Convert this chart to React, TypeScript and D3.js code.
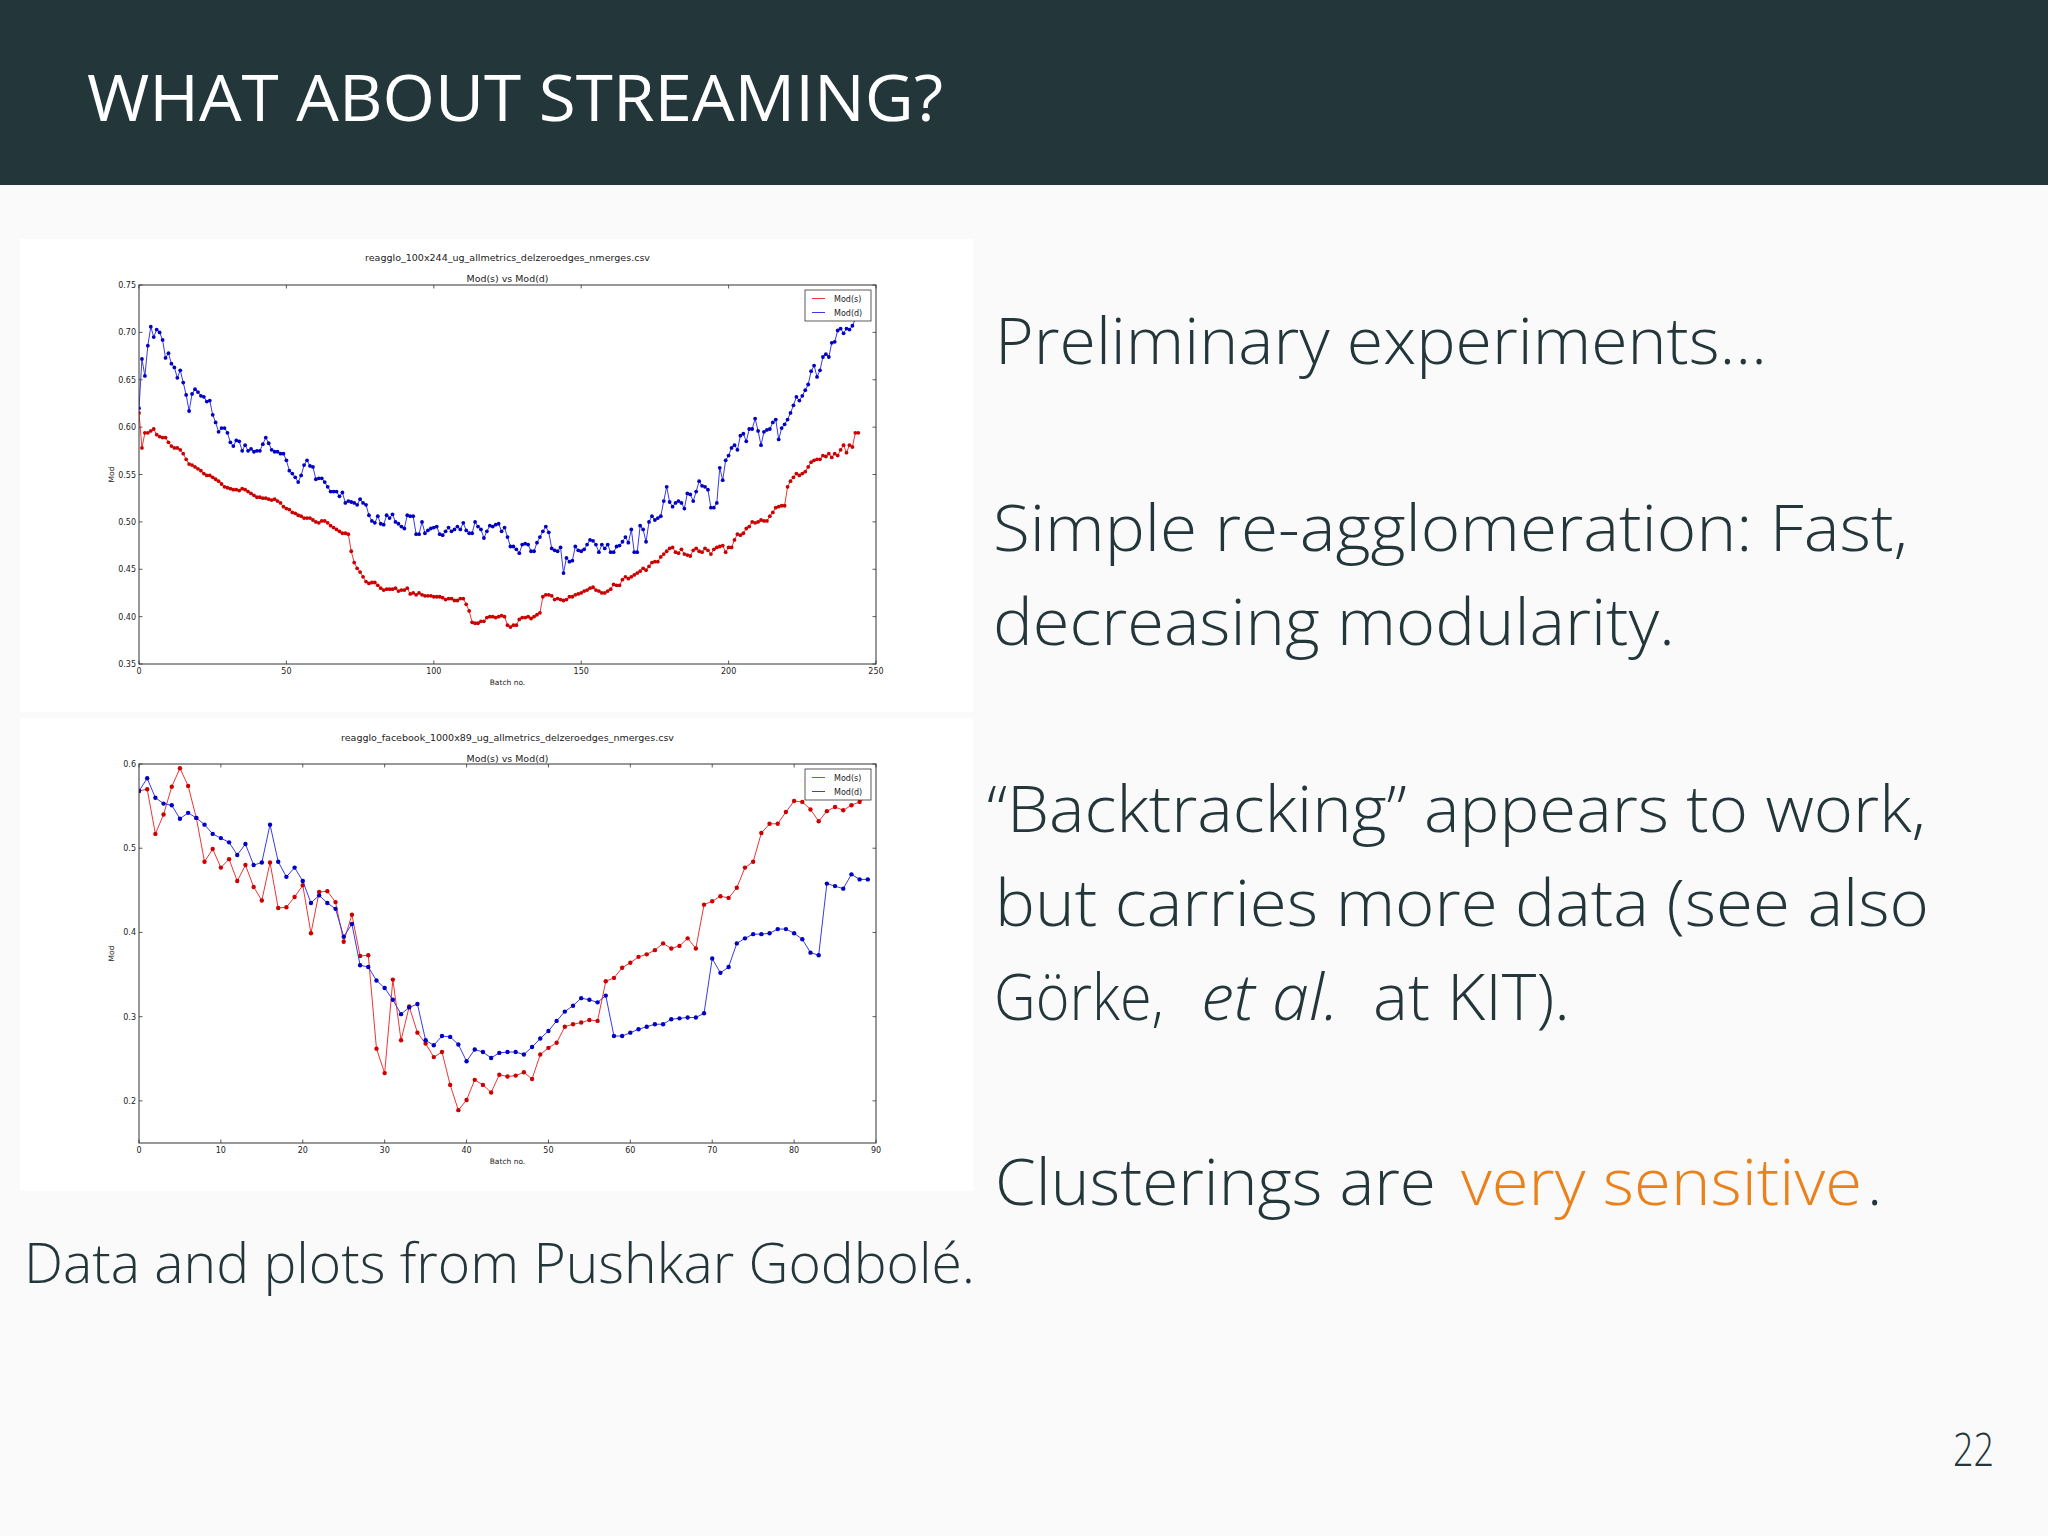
import React from "react";
import * as d3 from "d3";

// ---------- DATA ----------
const topModS: number[] = [
  0.615,0.578,0.594,0.594,0.596,0.598,0.592,0.590,0.589,0.589,
  0.584,0.580,0.578,0.578,0.576,0.572,0.566,0.561,0.560,0.558,
  0.556,0.554,0.551,0.549,0.549,0.547,0.545,0.543,0.540,0.537,
  0.536,0.535,0.534,0.534,0.533,0.535,0.534,0.532,0.530,0.528,
  0.526,0.526,0.525,0.525,0.524,0.523,0.524,0.522,0.520,0.516,
  0.514,0.513,0.510,0.509,0.507,0.506,0.504,0.504,0.504,0.502,
  0.500,0.499,0.501,0.501,0.499,0.496,0.494,0.492,0.490,0.488,
  0.488,0.487,0.469,0.457,0.451,0.447,0.442,0.437,0.435,0.436,
  0.436,0.433,0.430,0.428,0.429,0.429,0.429,0.430,0.427,0.428,
  0.428,0.430,0.424,0.425,0.423,0.425,0.423,0.422,0.422,0.422,
  0.421,0.421,0.421,0.420,0.418,0.419,0.419,0.417,0.417,0.419,
  0.419,0.413,0.406,0.394,0.393,0.393,0.395,0.395,0.399,0.400,
  0.400,0.399,0.400,0.401,0.400,0.391,0.389,0.391,0.391,0.397,
  0.399,0.399,0.400,0.398,0.400,0.402,0.404,0.421,0.423,0.423,
  0.422,0.418,0.419,0.418,0.417,0.418,0.421,0.421,0.423,0.424,
  0.425,0.427,0.428,0.430,0.431,0.428,0.427,0.425,0.425,0.427,
  0.429,0.434,0.433,0.433,0.439,0.442,0.440,0.442,0.444,0.446,
  0.448,0.451,0.449,0.453,0.457,0.458,0.458,0.463,0.466,0.469,
  0.472,0.473,0.468,0.467,0.471,0.466,0.465,0.464,0.470,0.472,
  0.469,0.468,0.472,0.470,0.466,0.471,0.473,0.474,0.475,0.468,
  0.473,0.473,0.481,0.487,0.486,0.488,0.493,0.495,0.500,0.499,
  0.500,0.502,0.501,0.501,0.506,0.510,0.515,0.516,0.517,0.517,
  0.537,0.543,0.547,0.551,0.549,0.551,0.553,0.558,0.563,0.565,
  0.566,0.566,0.570,0.569,0.572,0.568,0.572,0.570,0.576,0.581,
  0.573,0.581,0.579,0.594,0.594,
];

const topModD: number[] = [
  0.620,0.672,0.654,0.686,0.706,0.695,0.703,0.700,0.692,0.673,
  0.678,0.667,0.663,0.652,0.660,0.647,0.634,0.617,0.635,0.640,
  0.637,0.633,0.632,0.627,0.628,0.613,0.605,0.595,0.599,0.599,
  0.594,0.584,0.580,0.586,0.585,0.575,0.581,0.575,0.577,0.574,
  0.575,0.575,0.582,0.589,0.583,0.576,0.574,0.574,0.572,0.572,
  0.565,0.554,0.551,0.547,0.542,0.549,0.560,0.565,0.559,0.558,
  0.545,0.546,0.546,0.542,0.537,0.532,0.532,0.532,0.527,0.531,
  0.520,0.522,0.521,0.520,0.518,0.524,0.520,0.518,0.507,0.501,
  0.499,0.506,0.498,0.497,0.507,0.504,0.508,0.500,0.498,0.495,
  0.493,0.507,0.506,0.506,0.487,0.487,0.500,0.488,0.491,0.493,
  0.494,0.495,0.487,0.486,0.490,0.494,0.490,0.492,0.495,0.492,
  0.499,0.491,0.488,0.488,0.500,0.495,0.492,0.483,0.490,0.496,
  0.495,0.497,0.498,0.490,0.494,0.484,0.474,0.474,0.471,0.467,
  0.476,0.477,0.476,0.469,0.469,0.478,0.484,0.490,0.495,0.489,
  0.472,0.470,0.469,0.473,0.446,0.462,0.458,0.459,0.474,0.470,
  0.469,0.471,0.476,0.481,0.480,0.476,0.468,0.476,0.472,0.476,
  0.468,0.468,0.474,0.475,0.479,0.484,0.478,0.492,0.468,0.468,
  0.496,0.492,0.479,0.500,0.506,0.502,0.504,0.506,0.522,0.537,
  0.521,0.516,0.520,0.522,0.520,0.514,0.530,0.529,0.522,0.532,
  0.543,0.538,0.537,0.534,0.515,0.515,0.520,0.557,0.544,0.565,
  0.570,0.578,0.581,0.576,0.591,0.593,0.585,0.598,0.598,0.609,
  0.596,0.581,0.595,0.597,0.598,0.605,0.608,0.587,0.599,0.603,
  0.608,0.615,0.623,0.632,0.628,0.633,0.639,0.645,0.659,0.665,
  0.653,0.660,0.674,0.677,0.674,0.689,0.690,0.702,0.704,0.699,
  0.704,0.703,0.707,0.714,0.718,
];

const botModS: number[] = [
  0.568,0.570,0.517,0.540,0.573,0.595,0.574,0.536,0.484,0.499,
  0.477,0.487,0.461,0.480,0.454,0.438,0.483,0.429,0.430,0.442,
  0.456,0.399,0.448,0.449,0.436,0.389,0.421,0.372,0.373,0.262,
  0.233,0.344,0.272,0.312,0.281,0.268,0.252,0.258,0.219,0.189,
  0.201,0.225,0.219,0.210,0.231,0.229,0.230,0.234,0.226,0.255,
  0.263,0.269,0.288,0.291,0.293,0.296,0.295,0.342,0.346,0.358,
  0.364,0.371,0.374,0.379,0.387,0.381,0.384,0.393,0.381,0.433,
  0.437,0.443,0.441,0.453,0.477,0.484,0.518,0.529,0.529,0.543,
  0.556,0.555,0.546,0.532,0.544,0.549,0.545,0.551,0.555,0.562,
];

const botModD: number[] = [
  0.568,0.583,0.560,0.553,0.551,0.535,0.542,0.536,0.528,0.517,
  0.512,0.507,0.492,0.505,0.480,0.483,0.528,0.484,0.466,0.477,
  0.461,0.435,0.444,0.435,0.428,0.395,0.410,0.361,0.359,0.343,
  0.334,0.320,0.303,0.311,0.315,0.272,0.266,0.277,0.276,0.267,
  0.247,0.261,0.258,0.251,0.257,0.258,0.258,0.255,0.264,0.274,
  0.283,0.295,0.306,0.313,0.322,0.320,0.317,0.325,0.277,0.277,
  0.281,0.285,0.288,0.291,0.291,0.297,0.298,0.299,0.299,0.304,
  0.369,0.352,0.359,0.387,0.393,0.398,0.398,0.399,0.404,0.404,
  0.399,0.392,0.376,0.373,0.458,0.455,0.452,0.469,0.463,0.463,
];

const topXTicks = [0, 50, 100, 150, 200, 250];
const topYTicks = [0.35, 0.4, 0.45, 0.5, 0.55, 0.6, 0.65, 0.7, 0.75];
const botXTicks = [0, 10, 20, 30, 40, 50, 60, 70, 80, 90];
const botYTicks = [0.2, 0.3, 0.4, 0.5, 0.6];

const seriesNames = ["Mod(s)", "Mod(d)"];
const topTitle = "reagglo_100x244_ug_allmetrics_delzeroedges_nmerges.csv";
const botTitle = "reagglo_facebook_1000x89_ug_allmetrics_delzeroedges_nmerges.csv";
const subTitle = "Mod(s) vs Mod(d)";

// ---------- STYLE ----------
const DARK = "#23373B";
const ORANGE = "#EB811B";
const BG = "#FAFAFB";
const SLIDE_FONT = "'Open Sans', 'Fira Sans', 'Noto Sans', sans-serif";
const MPL_FONT = "'DejaVu Sans', sans-serif";
const RED_LINE = "#ee3535";
const RED_DOT = "#cc0000";
const BLUE_LINE = "#3a3ae8";
const BLUE_DOT = "#0000c4";

type ChartProps = {
  panel: [number, number, number, number];
  plot: { left: number; right: number; top: number; bottom: number };
  xDomain: [number, number];
  yDomain: [number, number];
  xTicks: number[];
  yTicks: number[];
  yFmt: (v: number) => string;
  s: number[];
  d: number[];
  title: string;
  titleLen: number;
  titleY: number;
  subY: number;
  r: number;
  id: string;
};

function Chart(p: ChartProps) {
  const { plot } = p;
  const x = d3.scaleLinear().domain(p.xDomain).range([plot.left, plot.right]);
  const y = d3.scaleLinear().domain(p.yDomain).range([plot.bottom, plot.top]);
  const line = d3
    .line<number>()
    .x((_, i) => x(i))
    .y((v) => y(v));
  const cx = (plot.left + plot.right) / 2;
  const cy = (plot.top + plot.bottom) / 2;
  const tl = 3.5;
  const lg = { x0: plot.right - 71, y0: plot.top + 5, w: 66, h: 31 };
  return (
    <g>
      <rect x={p.panel[0]} y={p.panel[1]} width={p.panel[2]} height={p.panel[3]} fill="#ffffff" />
      <text x={cx} y={p.titleY} textAnchor="middle" fontFamily={MPL_FONT} fontSize={9.5} fill="#222"
        textLength={p.titleLen} lengthAdjust="spacingAndGlyphs">{p.title}</text>
      <text x={cx} y={p.subY} textAnchor="middle" fontFamily={MPL_FONT} fontSize={9.5} fill="#222"
        textLength={82} lengthAdjust="spacingAndGlyphs">{subTitle}</text>
      <clipPath id={p.id}>
        <rect x={plot.left} y={plot.top} width={plot.right - plot.left} height={plot.bottom - plot.top} />
      </clipPath>
      <g clipPath={`url(#${p.id})`}>
        <path d={line(p.s) || ""} fill="none" stroke={RED_LINE} strokeWidth={1} />
        {p.s.map((v, i) => (
          <circle key={"s" + i} cx={x(i)} cy={y(v)} r={p.r} fill={RED_DOT} />
        ))}
        <path d={line(p.d) || ""} fill="none" stroke={BLUE_LINE} strokeWidth={1} />
        {p.d.map((v, i) => (
          <circle key={"d" + i} cx={x(i)} cy={y(v)} r={p.r} fill={BLUE_DOT} />
        ))}
      </g>
      {/* ticks */}
      {p.xTicks.map((t) => (
        <g key={"xt" + t}>
          <line x1={x(t)} x2={x(t)} y1={plot.bottom} y2={plot.bottom - tl} stroke="#333" strokeWidth={0.8} />
          <line x1={x(t)} x2={x(t)} y1={plot.top} y2={plot.top + tl} stroke="#333" strokeWidth={0.8} />
          <text x={x(t)} y={plot.bottom + 10} textAnchor="middle" fontFamily={MPL_FONT} fontSize={8} fill="#222">
            {t}
          </text>
        </g>
      ))}
      {p.yTicks.map((t) => (
        <g key={"yt" + t}>
          <line x1={plot.left} x2={plot.left + tl} y1={y(t)} y2={y(t)} stroke="#333" strokeWidth={0.8} />
          <line x1={plot.right} x2={plot.right - tl} y1={y(t)} y2={y(t)} stroke="#333" strokeWidth={0.8} />
          <text x={plot.left - 3} y={y(t) + 3} textAnchor="end" fontFamily={MPL_FONT} fontSize={8} fill="#222">
            {p.yFmt(t)}
          </text>
        </g>
      ))}
      <rect x={plot.left} y={plot.top} width={plot.right - plot.left} height={plot.bottom - plot.top}
        fill="none" stroke="#333" strokeWidth={1} />
      <text x={cx} y={plot.bottom + 21} textAnchor="middle" fontFamily={MPL_FONT} fontSize={7.5} fill="#222">
        Batch no.
      </text>
      <text transform={`translate(${plot.left - 25},${cy}) rotate(-90)`} textAnchor="middle"
        fontFamily={MPL_FONT} fontSize={7.5} fill="#222">
        Mod
      </text>
      {/* legend */}
      <rect x={lg.x0} y={lg.y0} width={lg.w} height={lg.h} fill="#fff" stroke="#333" strokeWidth={0.8} />
      {seriesNames.map((n, i) => (
        <g key={n}>
          <line x1={lg.x0 + 7} x2={lg.x0 + 20} y1={lg.y0 + 8.5 + i * 14} y2={lg.y0 + 8.5 + i * 14}
            stroke={i === 0 ? RED_LINE : BLUE_LINE} strokeWidth={1} />
          <text x={lg.x0 + 29} y={lg.y0 + 11.5 + i * 14} fontFamily={MPL_FONT} fontSize={8} fill="#222">
            {n}
          </text>
        </g>
      ))}
    </g>
  );
}

export default function App() {
  const fmt2 = d3.format(".2f");
  const fmt1 = d3.format(".1f");
  const bodyText = {
    fontFamily: SLIDE_FONT,
    fontWeight: 300,
    fontSize: 64,
    fill: DARK,
  } as const;
  return (
    <svg width={2048} height={1536} style={{ position: "absolute", left: 0, top: 0 }}
      xmlns="http://www.w3.org/2000/svg">
      <rect x={0} y={0} width={2048} height={1536} fill={BG} />
      <rect x={0} y={0} width={2048} height={185} fill={DARK} />
      <text x={87} y={121} fontFamily={SLIDE_FONT} fontWeight={400} fontSize={64} fill="#ffffff"
        textLength={856} lengthAdjust="spacingAndGlyphs">
        WHAT ABOUT STREAMING?
      </text>

      <Chart id="c1" panel={[20, 239, 953, 473]} plot={{ left: 139, right: 876, top: 285, bottom: 664 }}
        xDomain={[0, 250]} yDomain={[0.35, 0.75]} xTicks={topXTicks} yTicks={topYTicks} yFmt={fmt2}
        s={topModS} d={topModD} title={topTitle} titleLen={285} titleY={261} subY={282} r={1.9} />
      <Chart id="c2" panel={[20, 718, 953, 473]} plot={{ left: 139, right: 876, top: 764, bottom: 1143 }}
        xDomain={[0, 90]} yDomain={[0.15, 0.6]} xTicks={botXTicks} yTicks={botYTicks} yFmt={fmt1}
        s={botModS} d={botModD} title={botTitle} titleLen={333} titleY={741} subY={762} r={2.2} />

      <text x={995} y={364} {...bodyText} textLength={772} lengthAdjust="spacingAndGlyphs">
        Preliminary experiments…
      </text>
      <text x={993} y={551} {...bodyText} textLength={915} lengthAdjust="spacingAndGlyphs">
        Simple re-agglomeration: Fast,
      </text>
      <text x={993} y={645} {...bodyText} textLength={682} lengthAdjust="spacingAndGlyphs">
        decreasing modularity.
      </text>
      <text x={987} y={832} {...bodyText} textLength={939} lengthAdjust="spacingAndGlyphs">
        “Backtracking” appears to work,
      </text>
      <text x={995} y={926} {...bodyText} textLength={934} lengthAdjust="spacingAndGlyphs">
        but carries more data (see also
      </text>
      <text y={1020} {...bodyText}>
        <tspan x={994} textLength={170} lengthAdjust="spacingAndGlyphs">Görke,</tspan>
        <tspan x={1201} fontStyle="italic" textLength={138} lengthAdjust="spacingAndGlyphs">et al.</tspan>
        <tspan x={1373} textLength={197} lengthAdjust="spacingAndGlyphs">at KIT).</tspan>
      </text>
      <text y={1205} {...bodyText}>
        <tspan x={995} textLength={441} lengthAdjust="spacingAndGlyphs">Clusterings are</tspan>
        <tspan x={1461} fill={ORANGE} textLength={401} lengthAdjust="spacingAndGlyphs">very sensitive</tspan>
        <tspan x={1867}>.</tspan>
      </text>

      <text x={24} y={1283} {...bodyText} fontSize={56} textLength={951} lengthAdjust="spacingAndGlyphs">
        Data and plots from Pushkar Godbolé.
      </text>
      <text x={1953} y={1466} {...bodyText} fontSize={46} textLength={41} lengthAdjust="spacingAndGlyphs">
        22
      </text>
    </svg>
  );
}
